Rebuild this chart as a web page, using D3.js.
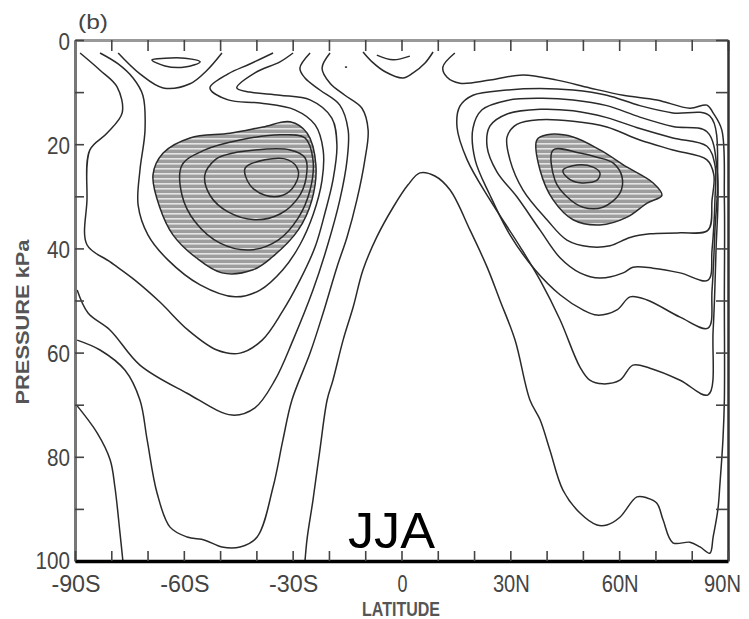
<!DOCTYPE html>
<html><head><meta charset="utf-8">
<script src="https://cdn.jsdelivr.net/npm/d3@7"></script>
<style>body{margin:0;background:#fff}</style>
</head><body>
<svg id="c" width="749" height="619"></svg>
<script>
// ---------- axis values ----------
const latTickValues = [-90,-80,-70,-60,-50,-40,-30,-20,-10,0,10,20,30,40,50,60,70,80,90];
const latLabelValues = [-90,-60,-30,0,30,60,90];
const latLabelText = ["-90S","-60S","-30S","0","30N","60N","90N"];
const pTickValues = [0,10,20,30,40,50,60,70,80,90,100];
const pLabelValues = [0,20,40,60,80,100];

// ---------- contour lines, [latitude, pressure kPa] ----------
// Southern-hemisphere jet (closed)
const sjA = [[-68.5,25.9],[-65.7,21.7],[-58.3,18.8],[-47.3,17.9],[-38.2,16.7],[-30.7,15.7],[-26.0,17.9],[-23.6,24.0],[-24.7,30.7],[-28.5,36.5],[-35.7,41.7],[-40.9,44.1],[-49.5,44.7],[-56.6,41.8],[-63.0,37.4],[-66.6,32.2]];
const sjB = [[-60.5,24.0],[-60.5,29.8],[-56.9,34.9],[-50.0,39.0],[-41.8,40.3],[-34.0,38.4],[-28.5,34.2],[-25.2,28.8],[-24.4,23.0],[-26.6,18.8],[-33.5,18.2],[-44.5,19.2],[-54.2,21.1]];
const sjC = [[-51.4,23.0],[-54.2,25.9],[-52.8,29.8],[-47.8,33.0],[-40.4,34.5],[-33.5,33.4],[-28.5,30.3],[-26.3,26.5],[-26.6,22.6],[-30.7,21.1],[-40.4,21.1],[-48.7,22.1]];
const sjD = [[-43.1,24.6],[-41.8,27.8],[-37.6,29.8],[-32.7,29.8],[-29.4,27.8],[-28.5,25.0],[-31.3,23.0],[-37.6,23.0]];
// Southern-hemisphere outer contours (open)
const sjE = [[-83.1,2.5],[-78.1,4.6],[-74.0,7.3],[-71.3,10.6],[-70.7,17.3],[-72.1,25.0],[-72.6,31.7],[-69.9,37.4],[-64.4,42.2],[-55.5,47.0],[-45.9,49.3],[-39.0,48.0],[-32.7,44.1],[-28.0,39.3],[-24.4,33.6],[-21.9,26.9],[-21.6,21.1],[-23.8,16.3],[-29.4,13.4],[-39.0,12.1],[-47.8,11.5],[-52.8,9.2],[-47.8,6.5],[-41.8,4.6],[-35.4,2.5]];
const sjF = [[-88.6,2.5],[-83.1,5.8],[-78.4,9.0],[-77.0,14.0],[-81.2,17.9],[-85.9,21.1],[-86.7,30.7],[-86.7,39.3],[-80.3,42.6],[-73.5,46.1],[-66.6,50.3],[-58.8,55.7],[-50.9,59.5],[-44.5,60.1],[-38.4,57.6],[-32.9,52.2],[-28.0,46.1],[-23.8,39.7],[-21.1,33.2],[-18.9,26.9],[-17.8,20.2],[-19.2,15.0],[-25.2,11.5],[-33.5,10.6],[-41.8,10.0],[-45.4,9.2],[-40.4,6.3],[-33.5,4.2],[-29.9,2.5]];
const sjG = [[-89.4,48.0],[-86.4,52.4],[-80.3,55.7],[-72.1,62.4],[-59.1,67.8],[-46.7,72.0],[-40.4,70.6],[-34.9,65.3],[-29.9,57.6],[-24.4,48.0],[-20.5,39.7],[-17.0,30.7],[-15.0,23.0],[-14.7,17.3],[-17.0,12.5],[-22.5,9.6],[-26.6,7.3],[-28.0,5.4],[-25.2,2.5]];
const sjH = [[-89.4,57.6],[-83.1,59.5],[-76.2,63.4],[-72.1,69.1],[-70.1,76.8],[-67.4,86.9],[-63.8,93.5],[-59.1,95.4],[-54.2,96.0],[-49.5,97.3],[-44.5,97.3],[-39.8,95.4],[-35.4,85.8],[-32.7,76.8],[-30.2,69.1],[-25.2,60.1],[-21.6,52.4],[-17.8,43.6],[-15.0,37.8],[-12.3,30.7],[-10.1,23.0],[-9.2,17.3],[-10.9,13.1],[-15.6,10.6],[-19.7,8.3],[-21.9,5.4],[-19.7,2.5]];
const polarS = [[-90,69.7],[-83.9,75.4],[-80.3,80.6],[-79.0,85.8],[-77.6,94.6],[-76.8,100]];
// Tropical tongue contour
const tropic = [[-26.6,100],[-26.0,95.6],[-24.4,88.3],[-22.5,78.7],[-20.5,69.1],[-18.9,65.3],[-16.1,57.6],[-13.3,51.2],[-10.6,44.1],[-6.8,37.8],[-2.3,32.1],[1.8,27.8],[5.1,25.5],[9.2,26.1],[13.4,28.8],[18.9,36.5],[23.6,43.6],[27.1,49.9],[31.3,57.6],[35.4,69.1],[38.2,72.9],[40.9,78.7],[44.5,86.4],[49.2,90.8],[53.9,93.1],[56.6,93.1],[60.2,91.6],[64.9,87.7],[67.7,87.9],[70.4,88.9],[72.1,92.1],[74.8,96.5],[79.5,96.4],[82.3,97.3],[85.0,98.5],[85.9,95.4],[87.2,90.2],[87.8,85.0],[88.6,76.8],[89.0,69.1],[89.0,49.9],[89.0,30.7],[88.3,17.3],[85.9,14.0],[84.2,12.5],[79.5,13.1],[70.4,11.5],[61.1,10.6],[51.9,9.2],[42.9,7.7],[33.5,6.7],[24.4,7.7],[16.1,8.3],[12.5,7.1],[11.4,5.2],[14.7,2.5]];
// Northern-hemisphere jet (closed)
const njB = [[37.3,19.2],[38.2,25.0],[41.8,30.7],[47.3,34.5],[54.7,35.5],[62.2,34.0],[67.7,31.3],[71.8,29.8],[69.3,27.4],[62.2,24.4],[54.7,21.1],[47.3,18.6],[40.1,18.2]];
const njC = [[41.8,21.1],[42.3,26.9],[45.6,30.1],[50.0,32.1],[55.5,32.1],[60.2,29.4],[60.8,26.3],[58.3,23.6],[53.9,22.5],[49.2,21.7]];
const njD = [[44.5,25.0],[45.9,26.5],[49.2,27.4],[53.9,26.9],[54.7,25.5],[52.8,24.4],[48.4,24.0]];
const nj2 = [[84.2,23.0],[74.8,21.1],[65.7,19.2],[56.6,16.7],[47.3,15.6],[38.2,15.3],[31.8,16.2],[29.1,18.6],[29.9,23.0],[33.5,28.8],[40.1,34.5],[45.6,38.4],[51.9,39.7],[57.5,39.5],[63.0,37.9],[68.5,37.2],[76.8,37.0],[84.5,36.5],[85.6,30.7],[86.1,25.9]];
const nj3 = [[84.2,20.4],[74.8,18.8],[65.7,17.0],[56.6,14.9],[47.3,13.6],[38.2,13.3],[29.1,14.2],[24.4,16.5],[23.6,20.5],[26.3,25.3],[31.8,30.1],[38.2,36.5],[43.7,41.8],[49.2,44.7],[54.7,45.7],[61.1,44.7],[63.8,43.6],[69.3,43.8],[76.8,44.7],[84.5,46.1],[85.6,40.3],[86.4,30.7],[86.4,24.0]];
const nj4 = [[84.2,17.6],[74.8,16.6],[65.7,14.8],[56.6,12.6],[47.3,11.5],[38.2,11.2],[29.1,11.6],[22.2,13.4],[19.7,16.9],[20.3,23.0],[24.4,29.8],[29.9,37.4],[36.8,44.1],[43.7,48.9],[50.0,51.8],[53.9,52.8],[59.4,51.8],[63.0,49.3],[67.7,49.9],[76.8,53.2],[84.5,55.3],[85.6,48.0],[86.4,36.5],[87.0,25.0]];
const nj5 = [[85.0,14.6],[74.8,14.0],[65.7,12.6],[56.6,10.6],[47.3,9.6],[38.2,9.3],[29.1,9.6],[19.7,10.6],[16.1,12.7],[15.3,16.7],[18.1,23.0],[24.4,30.7],[32.7,39.7],[38.2,46.1],[43.7,53.7],[49.2,62.8],[51.9,65.3],[55.5,66.0],[60.2,65.3],[63.8,62.4],[68.5,63.0],[76.8,65.3],[84.5,68.1],[85.9,55.7],[86.7,40.3],[87.2,26.9]];
// small features near the top
const topLeftV = [[-78.1,2.5],[-72.1,6.5],[-65.7,9.2],[-58.3,8.4],[-53.6,5.8],[-49.5,2.5]];
const topLeftLoop = [[-68.8,3.8],[-65.2,5.0],[-59.7,5.2],[-55.5,4.2],[-59.7,3.5],[-65.2,3.5]];
const topMidV = [[-10.6,2.3],[-8.1,4.2],[-4.5,6.1],[0.4,7.3],[3.2,6.3],[6.5,4.4],[8.7,2.3]];
const topMidInner = [[-6.8,2.9],[-2.3,3.8],[2.3,3.1]];
const topDot = [[-15.6,5.2],[-15.0,5.2]];

const shadedAreas = [sjA, njB];
const closedLines = [sjA, sjB, sjC, sjD, njB, njC, njD, nj2, nj3, nj4, nj5, topLeftLoop];
const openLines = [sjE, sjF, sjG, sjH, polarS, tropic, topLeftV, topMidV, topMidInner, topDot];

// ---------- drawing ----------
const svg = d3.select("#c");
const x = d3.scaleLinear().domain([-90, 90]).range([75, 728]);
const y = d3.scaleLinear().domain([0, 100]).range([40, 561]);

const defs = svg.append("defs");
const pat = defs.append("pattern").attr("id", "hatch")
  .attr("patternUnits", "userSpaceOnUse").attr("width", 6).attr("height", 5);
pat.append("rect").attr("width", 6).attr("height", 5).attr("fill", "#9d9d9d");
pat.append("rect").attr("y", 3).attr("width", 6).attr("height", 1.6).attr("fill", "#e4e4e4");
defs.append("clipPath").attr("id", "clip").append("rect")
  .attr("x", x(-90)).attr("y", y(0)).attr("width", x(90) - x(-90)).attr("height", y(100) - y(0));

const lineOpen = d3.line().x(d => x(d[0])).y(d => y(d[1])).curve(d3.curveCatmullRom.alpha(0.5));
const lineClosed = d3.line().x(d => x(d[0])).y(d => y(d[1])).curve(d3.curveCatmullRomClosed.alpha(0.5));

const plot = svg.append("g").attr("clip-path", "url(#clip)");
plot.selectAll("path.shade").data(shadedAreas).join("path").attr("class", "shade")
  .attr("d", lineClosed).attr("fill", "url(#hatch)");
plot.selectAll("path.cl").data(closedLines).join("path").attr("class", "cl")
  .attr("d", lineClosed).attr("fill", "none").attr("stroke", "#2a2a2a").attr("stroke-width", 1.5);
plot.selectAll("path.op").data(openLines).join("path").attr("class", "op")
  .attr("d", lineOpen).attr("fill", "none").attr("stroke", "#2a2a2a").attr("stroke-width", 1.5);

// axes (ticks pointing inward)
function styleAxis(g, color, width) {
  g.select(".domain").attr("stroke", color).attr("stroke-width", width);
  g.selectAll(".tick line").attr("stroke", "#444").attr("stroke-width", 1.6);
}
svg.append("g").attr("transform", `translate(0,${y(0)})`)
  .call(d3.axisTop(x).tickValues(latTickValues).tickSizeInner(-11).tickSizeOuter(0).tickFormat(""))
  .call(g => styleAxis(g, "#999", 3));
svg.append("g").attr("transform", `translate(${x(-90)},0)`)
  .call(d3.axisLeft(y).tickValues(pTickValues).tickSizeInner(-9).tickSizeOuter(0).tickFormat(""))
  .call(g => styleAxis(g, "#777", 3));
svg.append("g").attr("transform", `translate(${x(90)},0)`)
  .call(d3.axisRight(y).tickValues(pTickValues).tickSizeInner(-12).tickSizeOuter(0).tickFormat(""))
  .call(g => styleAxis(g, "#333", 2.5));
svg.append("g").attr("transform", `translate(0,${y(100)})`)
  .call(d3.axisBottom(x).tickValues(latTickValues).tickSizeInner(-10).tickSizeOuter(0).tickFormat(""))
  .call(g => styleAxis(g, "#000", 3.5));

// tick labels
const labelFont = "'Liberation Sans', Arial, sans-serif";
const xLabelLen = t => t.length === 1 ? 10 : t.length * 12.3;
svg.selectAll("text.xl").data(latLabelValues).join("text").attr("class", "xl")
  .attr("x", (d, i) => Math.min(x(d) + 1, 741 - xLabelLen(latLabelText[i]) / 2))
  .attr("y", 592).attr("text-anchor", "middle")
  .attr("font-family", labelFont).attr("font-size", 24).attr("fill", "#444")
  .attr("textLength", (d, i) => xLabelLen(latLabelText[i]))
  .attr("lengthAdjust", "spacingAndGlyphs")
  .text((d, i) => latLabelText[i]);
svg.selectAll("text.yl").data(pLabelValues).join("text").attr("class", "yl")
  .attr("x", 70).attr("y", d => y(d) + (d === 100 ? 8 : 9.5)).attr("text-anchor", "end")
  .attr("font-family", labelFont).attr("font-size", 24).attr("fill", "#444")
  .attr("textLength", d => String(d).length * 11.5)
  .attr("lengthAdjust", "spacingAndGlyphs")
  .text(d => d);

// titles
svg.append("text").attr("x", 78).attr("y", 29).attr("font-family", labelFont)
  .attr("font-size", 21).attr("fill", "#444").attr("textLength", 30)
  .attr("lengthAdjust", "spacingAndGlyphs").text("(b)");
svg.append("text").attr("x", 401).attr("y", 616).attr("text-anchor", "middle")
  .attr("font-family", labelFont).attr("font-size", 21).attr("font-weight", "bold").attr("fill", "#555")
  .attr("textLength", 78).attr("lengthAdjust", "spacingAndGlyphs").text("LATITUDE");
svg.append("text").attr("transform", "translate(29,322) rotate(-90)").attr("text-anchor", "middle")
  .attr("font-family", labelFont).attr("font-size", 19).attr("font-weight", "bold").attr("fill", "#555")
  .attr("textLength", 165).attr("lengthAdjust", "spacingAndGlyphs").text("PRESSURE  kPa");
svg.append("text").attr("x", 348).attr("y", 548)
  .attr("font-family", labelFont).attr("font-size", 50).attr("fill", "#000")
  .attr("textLength", 87).attr("lengthAdjust", "spacingAndGlyphs").text("JJA");
</script>
</body></html>
